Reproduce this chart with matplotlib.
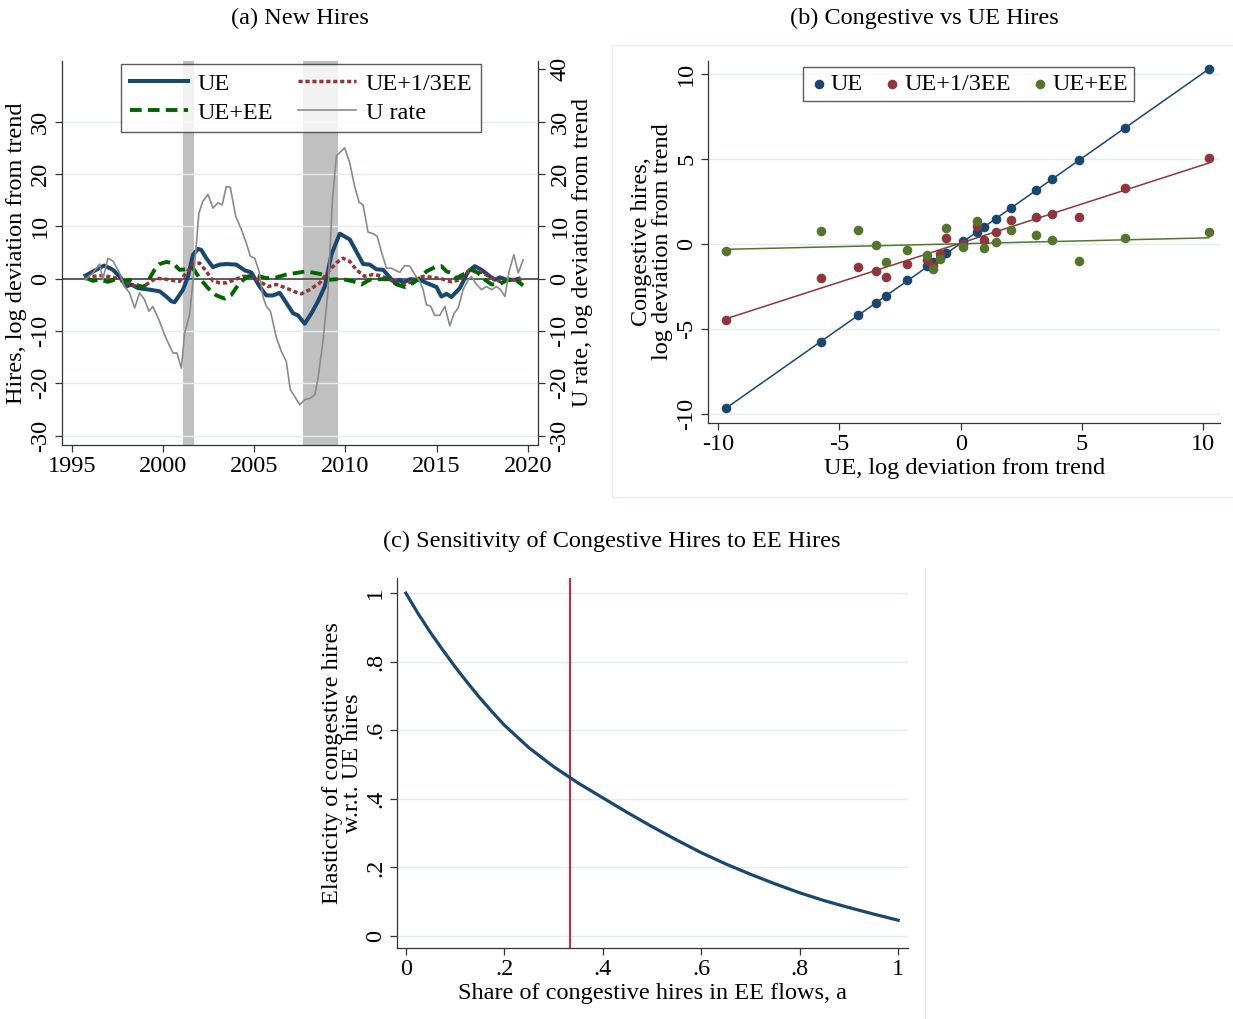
import matplotlib
matplotlib.use("Agg")
import matplotlib.pyplot as plt
import numpy as np
from matplotlib.lines import Line2D
from matplotlib.patches import Rectangle

plt.rcParams["font.family"] = ["Liberation Serif", "DejaVu Serif"]
plt.rcParams["font.size"] = 17.5
plt.rcParams["axes.unicode_minus"] = False

# ---- panel (a): new hires, log deviation from trend ----
ue_pts = [(1995.76, 0.6), (1996.71, 2.4), (1996.80, 2.5), (1997.26, 1.7), (1997.71, 0.1),
          (1997.99, -1.5), (1998.26, -1.1), (1998.63, -1.8), (1999.27, -2.1), (1999.82, -2.4),
          (2000.18, -3.4), (2000.46, -4.3), (2000.64, -4.5), (2000.91, -3.1), (2001.10, -2.1),
          (2001.37, 0.4), (2001.65, 4.6), (2001.92, 5.7), (2002.10, 5.5), (2002.38, 3.9),
          (2002.74, 2.2), (2003.11, 2.7), (2003.47, 2.8), (2004.02, 2.7), (2004.48, 1.6),
          (2004.84, 1.2), (2005.30, -1.5), (2005.67, -3.2), (2006.03, -3.2), (2006.40, -2.7),
          (2006.76, -4.6), (2007.13, -6.6), (2007.40, -7.0), (2007.77, -8.6), (2008.14, -6.6),
          (2008.50, -4.3), (2008.87, -1.5), (2009.23, 4.6), (2009.69, 8.6), (2010.24, 7.5),
          (2010.60, 5.2), (2010.97, 2.8), (2011.33, 2.7), (2011.70, 1.8), (2012.07, 1.7),
          (2012.43, 0.25), (2012.71, -0.8), (2012.98, -0.2), (2013.16, -0.8), (2013.53, -0.1),
          (2014.08, -0.2), (2014.44, -0.8), (2014.99, -1.6), (2015.26, -3.4), (2015.54, -2.9),
          (2015.81, -3.5), (2016.27, -1.8), (2016.73, 1.4), (2017.09, 2.4), (2017.46, 1.7),
          (2017.92, 0.45), (2018.19, -0.2), (2018.46, 0.25), (2018.83, -0.2), (2019.29, -0.2),
          (2019.50, 0.0)]
third_pts = [(1995.76, 0.25), (1996.16, 0.45), (1996.71, 0.6), (1997.26, 0.25), (1997.71, -0.1),
             (1998.08, -0.8), (1998.63, -1.6), (1999.09, -1.1), (1999.63, 0.1), (2000.18, -0.1),
             (2000.64, -0.4), (2000.91, -0.5), (2001.28, 1.1), (2001.65, 2.8), (2002.01, 3.0),
             (2002.38, 1.4), (2002.74, -0.4), (2003.11, -0.8), (2003.47, -0.8), (2003.93, -0.2),
             (2004.39, 0.45), (2004.84, 0.45), (2005.30, -0.5), (2005.76, -1.5), (2006.22, -1.1),
             (2006.76, -1.8), (2007.22, -2.5), (2007.59, -2.9), (2008.04, -2.1), (2008.59, -0.8),
             (2009.14, 1.7), (2009.69, 3.6), (2009.87, 3.9), (2010.24, 3.3), (2010.60, 1.7),
             (2011.06, 0.45), (2011.52, 0.8), (2011.88, 0.6), (2012.34, 0.0), (2012.80, -0.8),
             (2013.16, -1.3), (2013.71, -0.4), (2014.26, 0.45), (2014.81, 0.25), (2015.36, -0.1),
             (2015.81, -0.6), (2016.27, -0.2), (2016.73, 1.3), (2017.09, 1.7), (2017.55, 1.1),
             (2018.01, 0.1), (2018.46, -0.5), (2018.92, -0.2), (2019.38, -0.2), (2019.65, -0.4)]
ee_pts = [(1995.80, 0.1), (1996.16, -0.4), (1996.53, -0.2), (1996.98, -0.6), (1997.44, -0.1),
          (1997.90, -0.5), (1998.17, -0.2), (1998.54, -1.1), (1998.90, -1.8), (1999.18, -0.5),
          (1999.54, 1.7), (1999.82, 2.8), (2000.18, 3.2), (2000.55, 3.0), (2000.91, 1.7),
          (2001.28, 1.8), (2001.65, 2.0), (2002.01, 0.1), (2002.47, -1.8), (2002.93, -3.2),
          (2003.38, -3.8), (2003.75, -3.1), (2004.20, -0.8), (2004.66, 0.45), (2005.12, 0.6),
          (2005.67, 0.1), (2006.22, 0.25), (2006.76, 0.8), (2007.31, 1.1), (2007.86, 1.4),
          (2008.32, 1.1), (2008.78, 0.8), (2009.14, -0.2), (2009.51, -0.1), (2009.87, -0.1),
          (2010.42, -0.5), (2010.88, -1.1), (2011.33, -0.2), (2011.88, -0.1), (2012.43, -0.1),
          (2012.80, -1.1), (2013.25, -1.6), (2013.71, -0.8), (2014.08, 0.1), (2014.44, 1.4),
          (2014.90, 2.2), (2015.26, 2.4), (2015.54, 1.4), (2015.81, 1.1), (2016.09, 0.1),
          (2016.45, 0.8), (2016.91, 1.7), (2017.28, 1.1), (2017.64, -0.2), (2018.01, -1.1),
          (2018.46, -1.0), (2018.92, -0.2), (2019.29, -0.1), (2019.74, -1.3)]
urate_pts = [(1995.76, -0.2), (1996.16, 1.1), (1996.53, 2.8), (1996.71, -0.2), (1996.98, 3.9),
             (1997.26, 3.4), (1997.62, 1.1), (1997.90, -1.5), (1998.17, -2.7), (1998.45, -5.6),
             (1998.72, -2.7), (1998.99, -4.0), (1999.23, -6.2), (1999.45, -5.3), (1999.82, -8.2),
             (2000.09, -10.7), (2000.37, -12.9), (2000.55, -14.2), (2000.77, -14.2), (2001.01, -17.1),
             (2001.19, -10.4), (2001.46, -6.9), (2001.74, 2.7), (2001.97, 12.5), (2002.19, 14.8),
             (2002.47, 16.1), (2002.74, 13.5), (2003.02, 14.5), (2003.25, 14.1), (2003.47, 17.6),
             (2003.69, 17.5), (2003.99, 11.9), (2004.30, 9.4), (2004.57, 6.8), (2004.79, 4.3),
             (2005.03, 3.9), (2005.27, 1.4), (2005.48, -3.4), (2005.67, -5.3), (2005.89, -6.2),
             (2006.22, -11.3), (2006.49, -13.9), (2006.76, -15.8), (2006.98, -21.2), (2007.22, -22.5),
             (2007.50, -24.1), (2007.77, -23.1), (2008.04, -22.9), (2008.32, -22.2), (2008.50, -19.0),
             (2008.78, -11.7), (2009.05, -2.1), (2009.29, 15.1), (2009.51, 23.5), (2009.96, 25.0),
             (2010.24, 22.1), (2010.51, 17.6), (2010.75, 14.6), (2010.97, 14.1), (2011.24, 8.9),
             (2011.52, 8.6), (2011.74, 8.1), (2011.97, 5.2), (2012.25, 2.0), (2012.52, 2.0),
             (2012.80, 1.5), (2012.98, 1.2), (2013.25, 2.5), (2013.53, 2.4), (2013.80, 0.8),
             (2014.08, -0.5), (2014.26, -2.1), (2014.44, -5.0), (2014.66, -5.2), (2014.90, -7.0),
             (2015.17, -7.0), (2015.45, -5.3), (2015.72, -9.0), (2015.96, -6.6), (2016.18, -5.6),
             (2016.45, -2.1), (2016.73, -0.2), (2016.91, 0.45), (2017.18, -1.1), (2017.46, -2.1),
             (2017.73, -1.5), (2018.01, -2.1), (2018.28, -1.5), (2018.50, -2.1), (2018.74, -3.4),
             (2018.97, 1.4), (2019.23, 4.6), (2019.47, 1.1), (2019.74, 3.6)]
recessions = [(2001.1, 2001.7), (2007.65, 2009.6)]

# ---- panel (b): binned scatter of congestive hires vs UE ----
bin_x = [-9.68, -5.78, -4.22, -3.49, -3.08, -2.20, -1.39, -1.13, -0.86, -0.61,
         0.10, 0.68, 0.94, 1.46, 2.07, 3.09, 3.77, 4.88, 6.76, 10.23]
bin_ue = [-9.66, -5.76, -4.21, -3.50, -3.07, -2.16, -1.34, -1.10, -0.85, -0.57,
          0.14, 0.67, 0.96, 1.47, 2.08, 3.13, 3.82, 4.90, 6.80, 10.27]
bin_third = [-4.48, -2.01, -1.36, -1.61, -1.93, -1.18, -0.94, -1.30, -0.60, 0.33,
             0.0, 1.06, 0.24, 0.67, 1.40, 1.59, 1.73, 1.55, 3.26, 5.05]
bin_ee = [-0.43, 0.73, 0.81, -0.08, -1.06, -0.35, -0.65, -1.49, -0.90, 0.90,
          -0.22, 1.32, -0.26, 0.12, 0.81, 0.53, 0.20, -1.02, 0.35, 0.69]

# ---- panel (c): elasticity vs share a ----
share_a = [0, 0.025, 0.05, 0.075, 0.1, 0.125, 0.15, 0.175, 0.2, 0.25, 0.3, 0.35, 0.4,
           0.45, 0.5, 0.55, 0.6, 0.65, 0.7, 0.75, 0.8, 0.85, 0.9, 0.95, 1.0]
elasticity = [1.0, 0.94, 0.885, 0.834, 0.785, 0.739, 0.695, 0.654, 0.615, 0.549, 0.494,
              0.446, 0.403, 0.360, 0.319, 0.280, 0.243, 0.210, 0.180, 0.152, 0.126,
              0.103, 0.083, 0.064, 0.046]
a_mark = 1 / 3

navy = "#1a476f"
maroon = "#90353b"
dkgreen = "#006400"
forest = "#55752f"
gridc = "#e3ecef"
spinec = "#333333"

W, H = 1233, 1019
fig = plt.figure(figsize=(W / 100, H / 100), dpi=100)


def style(ax):
    for s in ["top", "right"]:
        ax.spines[s].set_visible(False)
    for s in ["left", "bottom"]:
        ax.spines[s].set_color(spinec)
        ax.spines[s].set_linewidth(0.9)
    ax.tick_params(direction="out", length=5, width=0.9, color=spinec, pad=3)
    ax.grid(axis="y", color=gridc, lw=1.0)
    ax.set_axisbelow(True)
    for t in ax.get_yticklabels():
        t.set_rotation(90)
        t.set_va("center")


# panel (a)
ax = fig.add_axes([62 / W, 1 - 445 / H, (538.3 - 62) / W, (445 - 60.7) / H])
for r0, r1 in recessions:
    ax.axvspan(r0, r1, color="#c0c0c0", lw=0, zorder=0.5)
ax.axhline(0, color=spinec, lw=1.1, zorder=1)
t, v = zip(*ue_pts)
l1, = ax.plot(t, v, color=navy, lw=2.9, label="UE", zorder=3)
t, v = zip(*third_pts)
l2, = ax.plot(t, v, color=maroon, lw=2.5, ls=(0, (1.2, 0.8)), label="UE+1/3EE", zorder=3)
t, v = zip(*ee_pts)
l3, = ax.plot(t, v, color=dkgreen, lw=2.8, ls=(0, (3, 1.6)), label="UE+EE", zorder=3)
ax.set_xlim(1994.47, 2020.57)
ax.set_ylim(-31.78, 41.66)
ax.set_xticks([1995, 2000, 2005, 2010, 2015, 2020])
ax.set_yticks([-30, -20, -10, 0, 10, 20, 30])
style(ax)
ax.set_ylabel("Hires, log deviation from trend", labelpad=2)

ax2 = ax.twinx()
t, v = zip(*urate_pts)
l4, = ax2.plot(t, v, color="#8a8a8a", lw=1.2, label="U rate")
ax2.set_ylim(-31.78, 41.66)
ax2.set_yticks([-30, -20, -10, 0, 10, 20, 30, 40])
for s in ["top", "left", "bottom"]:
    ax2.spines[s].set_visible(False)
ax2.spines["right"].set_color(spinec)
ax2.spines["right"].set_linewidth(0.9)
ax2.tick_params(direction="out", length=5, width=0.9, color=spinec, pad=3)
for tl in ax2.get_yticklabels():
    tl.set_rotation(90)
    tl.set_va("center")
ax2.set_ylabel("U rate, log deviation from trend", labelpad=1)
leg = ax2.legend([l1, l3, l2, l4], ["UE", "UE+EE", "UE+1/3EE", "U rate"], ncol=2,
                 loc="upper left", bbox_to_anchor=(0.124, 0.991), borderaxespad=0,
                 frameon=True, fancybox=False, edgecolor=spinec, handlelength=2.4,
                 labelspacing=0.3, columnspacing=1.0, borderpad=0.35, handletextpad=0.4)
leg.get_frame().set_linewidth(1.0)

# panel (b)
bx = fig.add_axes([708.3 / W, 1 - 423.3 / H, (1220 - 708.3) / W, (423.3 - 60.7) / H])
xs = np.array([min(bin_x), max(bin_x)])
series_b = [(bin_ue, navy, "UE"), (bin_third, maroon, "UE+1/3EE"), (bin_ee, forest, "UE+EE")]
for ys, c, lab in series_b:
    k, b = np.polyfit(bin_x, ys, 1)
    bx.plot(xs, k * xs + b, color=c, lw=1.1, zorder=2)
for ys, c, lab in series_b:
    bx.scatter(bin_x, ys, s=48, color=c, label=lab, zorder=3, linewidths=0)
bx.set_xlim(-10.41, 10.69)
bx.set_ylim(-10.56, 10.76)
bx.set_xticks([-10, -5, 0, 5, 10])
bx.set_yticks([-10, -5, 0, 5, 10])
style(bx)
bx.set_xlabel("UE, log deviation from trend", labelpad=2)
bx.set_ylabel("Congestive hires,\nlog deviation from trend", labelpad=2, linespacing=1.0)
lb = bx.legend(ncol=3, loc="upper left", bbox_to_anchor=(0.185, 0.983), borderaxespad=0,
               frameon=True, fancybox=False, edgecolor=spinec, handletextpad=0.1,
               columnspacing=0.8, borderpad=0.25, handlelength=0.8, scatterpoints=1)
lb.get_frame().set_linewidth(1.0)

# panel (c)
cx = fig.add_axes([397 / W, 1 - 948 / H, (908 - 397) / W, (948 - 578) / H])
cx.plot(share_a, elasticity, color=navy, lw=2.3, zorder=3)
cx.axvline(a_mark, color="#c8102e", lw=1.3, zorder=2)
cx.set_xlim(-0.018, 1.02)
cx.set_ylim(-0.035, 1.044)
ticks = [0, 0.2, 0.4, 0.6, 0.8, 1.0]
tlabs = ["0", ".2", ".4", ".6", ".8", "1"]
cx.set_xticks(ticks, tlabs)
cx.set_yticks(ticks, tlabs)
style(cx)
cx.set_xlabel("Share of congestive hires in EE flows, a", labelpad=2)
cx.set_ylabel("Elasticity of congestive hires\nw.r.t. UE hires", labelpad=1, linespacing=0.95)

# titles and graph-region borders
fig.text(300 / W, 1 - 18 / H, "(a) New Hires", ha="center", va="center")
fig.text(924 / W, 1 - 18 / H, "(b) Congestive vs UE Hires", ha="center", va="center")
fig.text(612 / W, 1 - 541 / H, "(c) Sensitivity of Congestive Hires to EE Hires", ha="center", va="center")
fig.add_artist(Rectangle((612 / W, 1 - 497 / H), 700 / W, 452 / H, transform=fig.transFigure,
                         fill=False, edgecolor=gridc, lw=1.0))
fig.add_artist(Line2D([925 / W, 925 / W], [0, 1 - 568 / H], transform=fig.transFigure,
                      color=gridc, lw=1.0))

fig.savefig("out.png", dpi=100)
